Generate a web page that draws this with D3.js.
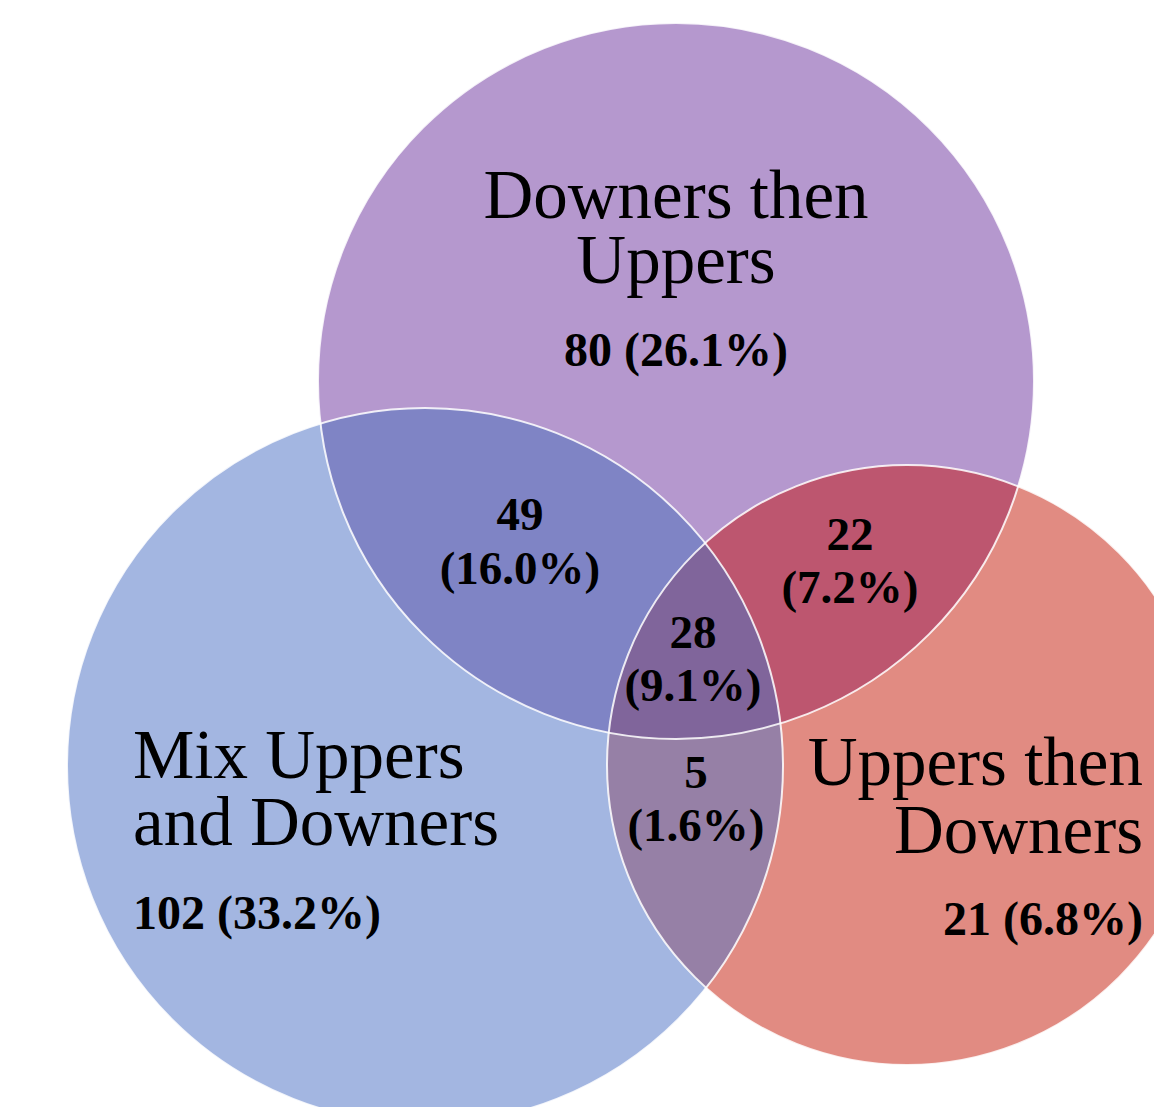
<!DOCTYPE html>
<html>
<head>
<meta charset="utf-8">
<script src="https://cdn.jsdelivr.net/npm/d3@7/dist/d3.min.js"></script>
<style>
  html, body { margin: 0; padding: 0; background: #ffffff; }
  svg { display: block; }
</style>
</head>
<body>
<div id="chart"></div>
<script>
// ---- data ----
const setNames = ["Downers then Uppers", "Mix Uppers and Downers", "Uppers then Downers"];
const setLabelLines = [["Downers then", "Uppers"], ["Mix Uppers", "and Downers"], ["Uppers then", "Downers"]];
const uniqueCounts = [80, 102, 21];
const uniquePercents = ["26.1%", "33.2%", "6.8%"];
const overlapKeys = ["DU&MIX", "DU&UD", "ALL", "MIX&UD"];
const overlapCounts = [49, 22, 28, 5];
const overlapPercents = ["16.0%", "7.2%", "9.1%", "1.6%"];

// ---- layout (abstract units, mapped through scales) ----
const W = 1154, H = 1107;
const x = d3.scaleLinear().domain([0, 1154]).range([0, W]);
const y = d3.scaleLinear().domain([0, 1107]).range([0, H]);
const circleLayout = [
  { cx: 676, cy: 381, r: 358 },
  { cx: 425, cy: 766, r: 358 },
  { cx: 907, cy: 765, r: 300 }
];
const setColors = ["#b598ce", "#a3b6e1", "#e18b82"];
const overlapColors = { "DU&MIX": "#7f84c5", "DU&UD": "#bd566f", "MIX&UD": "#9680a6", "ALL": "#80659b" };

const svg = d3.select("#chart").append("svg").attr("width", W).attr("height", H);
svg.append("rect").attr("width", W).attr("height", H).attr("fill", "#fff");
const defs = svg.append("defs");

const circles = setNames.map((n, i) => ({ name: n, ...circleLayout[i], color: setColors[i] }));

circles.forEach((c, i) => {
  defs.append("clipPath").attr("id", "clip" + i)
    .append("circle").attr("cx", x(c.cx)).attr("cy", y(c.cy)).attr("r", x(c.r) - x(0));
});
defs.append("clipPath").attr("id", "clip01").attr("clip-path", "url(#clip0)")
  .append("circle").attr("cx", x(circles[1].cx)).attr("cy", y(circles[1].cy)).attr("r", x(circles[1].r) - x(0));

const g = svg.append("g");
g.selectAll("circle.base").data([circles[1], circles[0], circles[2]]).join("circle")
  .attr("class", "base")
  .attr("cx", d => x(d.cx)).attr("cy", d => y(d.cy)).attr("r", d => x(d.r) - x(0))
  .attr("fill", d => d.color);

function overlay(circle, clip, color) {
  g.append("g").attr("clip-path", "url(#" + clip + ")")
    .append("circle").attr("cx", x(circle.cx)).attr("cy", y(circle.cy)).attr("r", x(circle.r) - x(0))
    .attr("fill", color);
}
overlay(circles[1], "clip0", overlapColors["DU&MIX"]);
overlay(circles[2], "clip0", overlapColors["DU&UD"]);
overlay(circles[2], "clip1", overlapColors["MIX&UD"]);
overlay(circles[2], "clip01", overlapColors["ALL"]);

g.selectAll("circle.outline").data(circles).join("circle")
  .attr("class", "outline")
  .attr("cx", d => x(d.cx)).attr("cy", d => y(d.cy)).attr("r", d => x(d.r) - x(0))
  .attr("fill", "none").attr("stroke", "#ffffff").attr("stroke-width", 2).attr("stroke-opacity", 0.85);

// ---- labels ----
const serif = "'Liberation Serif', 'Times New Roman', serif";
const setLabelPos = [
  { x: 676, anchor: "middle", lines: [218, 283], valY: 366 },
  { x: 133, anchor: "start", lines: [778, 845], valY: 929 },
  { x: 1143, anchor: "end", lines: [785, 853], valY: 935 }
];
setLabelLines.forEach((lines, i) => {
  const p = setLabelPos[i];
  const t = svg.append("text").attr("text-anchor", p.anchor).attr("font-family", serif)
    .attr("font-size", 69).attr("fill", "#000");
  lines.forEach((ln, j) => {
    t.append("tspan").attr("x", x(p.x)).attr("y", y(p.lines[j])).text(ln);
  });
  svg.append("text").attr("x", x(p.x)).attr("y", y(p.valY))
    .attr("text-anchor", p.anchor).attr("font-family", serif).attr("font-size", 48).attr("font-weight", "bold")
    .attr("fill", "#000").text(uniqueCounts[i] + " (" + uniquePercents[i] + ")");
});

const overlapPos = {
  "DU&MIX": { x: 520, y1: 530, y2: 584 },
  "DU&UD": { x: 850, y1: 550, y2: 603 },
  "ALL": { x: 693, y1: 648, y2: 701 },
  "MIX&UD": { x: 696, y1: 788, y2: 841 }
};
overlapKeys.forEach((k, i) => {
  const p = overlapPos[k];
  const t = svg.append("text").attr("text-anchor", "middle")
    .attr("font-family", serif).attr("font-size", 47).attr("font-weight", "bold").attr("fill", "#000");
  t.append("tspan").attr("x", x(p.x)).attr("y", y(p.y1)).text(overlapCounts[i]);
  t.append("tspan").attr("x", x(p.x)).attr("y", y(p.y2)).text("(" + overlapPercents[i] + ")");
});
</script>
</body>
</html>
